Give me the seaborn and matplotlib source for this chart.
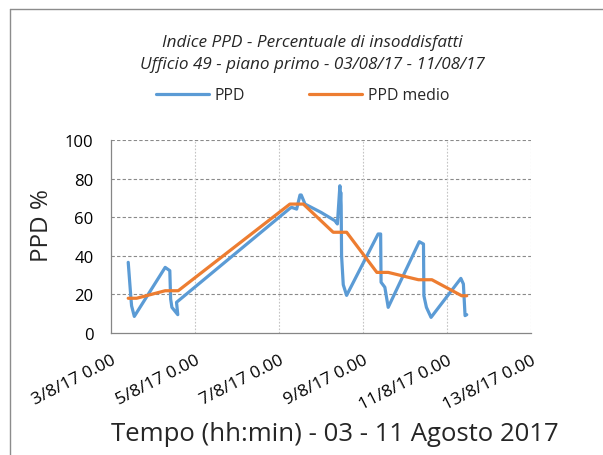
import numpy as np
import pandas as pd
import matplotlib
matplotlib.use("Agg")
import matplotlib.pyplot as plt
import seaborn as sns
from matplotlib.lines import Line2D

# Time expressed in days since 03/08/17 00:00
ppd_days = [0.41, 0.47, 0.49, 0.555, 1.29, 1.40, 1.42, 1.45, 1.59, 1.56,
            4.26, 4.30, 4.42, 4.50, 4.53, 4.62, 5.00, 5.33, 5.39, 5.45,
            5.46, 5.47, 5.48, 5.49, 5.53, 5.61, 6.36, 6.42, 6.43, 6.52,
            6.60, 7.34, 7.44, 7.45, 7.51, 7.62, 8.33, 8.39, 8.43, 8.47]
ppd_values = [36.6, 19.3, 14.1, 8.6, 34.0, 32.3, 17.6, 13.3, 9.5, 15.9,
              64.6, 65.1, 64.2, 71.5, 71.5, 66.8, 62.5, 58.2, 56.5, 76.3,
              68.0, 72.9, 66.0, 40.0, 25.0, 19.5, 51.3, 51.3, 26.3, 23.7,
              13.3, 47.3, 46.1, 19.3, 13.3, 8.1, 28.3, 25.4, 9.0, 9.5]

mean_days = [0.41, 0.61, 1.29, 1.60, 4.26, 4.58, 5.29, 5.61, 6.33, 6.60,
             7.32, 7.64, 8.35, 8.47]
mean_values = [18.0, 18.0, 21.9, 21.9, 66.8, 66.8, 52.2, 52.2, 31.4, 31.4,
               27.6, 27.6, 19.3, 19.3]

tick_days = [0, 2, 4, 6, 8, 10]
tick_labels = ["3/8/17 0.00", "5/8/17 0.00", "7/8/17 0.00",
               "9/8/17 0.00", "11/8/17 0.00", "13/8/17 0.00"]
y_ticks = [0, 20, 40, 60, 80, 100]

df_ppd = pd.DataFrame({"day": ppd_days, "val": ppd_values})
df_mean = pd.DataFrame({"day": mean_days, "val": mean_values})

sns.set_theme(style="white")
plt.rcParams['font.family'] = ['Open Sans', 'DejaVu Sans']

fig = plt.figure(figsize=(6.03, 4.56), dpi=100)
fig.patch.set_facecolor("white")
ax = fig.add_axes([0.18408, 0.26754, 0.69652, 0.42325])

sns.lineplot(data=df_ppd, x="day", y="val", sort=False, estimator=None,
             color="#5B9BD5", lw=2.3, ax=ax, label="PPD",
             solid_joinstyle="round", solid_capstyle="round")
sns.lineplot(data=df_mean, x="day", y="val", sort=False, estimator=None,
             color="#ED7D31", lw=2.3, ax=ax, label="PPD medio",
             solid_joinstyle="round", solid_capstyle="round")

ax.set_xlim(0, 10)
ax.set_ylim(0, 100)
ax.set_xticks(tick_days)
ax.set_xticklabels(tick_labels, rotation=27, ha="right", va="top",
                   rotation_mode="anchor", fontsize=12.5)
ax.set_yticks(y_ticks)
ax.set_yticklabels([str(v) for v in y_ticks], fontsize=12)
ax.set_xlabel("")
ax.set_ylabel("")

ax.tick_params(axis="x", direction="out", length=4.5, width=0.8,
               color="#868686", pad=9, labelcolor="black")
ax.tick_params(axis="y", direction="out", length=4.5, width=0.8,
               color="#868686", pad=8, labelcolor="black")

# grid
ax.grid(False)
for v in y_ticks[1:]:
    ax.axhline(v, color="#8a8a8a", lw=0.8, ls=(0, (3, 2)), zorder=0)
for d in tick_days[1:]:
    ax.axvline(d, color="#c4c4c4", lw=0.8, ls=(0, (1.5, 1.5)), zorder=0)

for s in ["top", "right"]:
    ax.spines[s].set_visible(False)
for s in ["left", "bottom"]:
    ax.spines[s].set_color("#868686")
    ax.spines[s].set_linewidth(0.9)

handles, labels = ax.get_legend_handles_labels()
ax.get_legend().remove()
fig.legend(handles, labels, loc="center", bbox_to_anchor=(0.5017, 0.789),
           ncol=2, frameon=False, fontsize=11.4, handlelength=3.35,
           handletextpad=0.32, columnspacing=4.1)

fig.text(0.5174, 0.9057, "Indice PPD - Percentuale di insoddisfatti",
         ha="center", va="center", style="italic", fontsize=12.3)
fig.text(0.5174, 0.8575, "Ufficio 49 - piano primo - 03/08/17 - 11/08/17",
         ha="center", va="center", style="italic", fontsize=12.3)

fig.text(42 / 603, 1 - 226 / 456, "PPD %", rotation=90, ha="center",
         va="center", fontsize=17.5)
fig.text(334.5 / 603, 1 - 435 / 456, "Tempo (hh:min) - 03 - 11 Agosto 2017",
         ha="center", va="center", fontsize=18.5)

# chart-area frame (left and top edges visible)
fig.add_artist(Line2D([9.5 / 603, 9.5 / 603], [0, 1 - 9.5 / 456],
                      transform=fig.transFigure, color="#8c8c8c", lw=1))
fig.add_artist(Line2D([9.5 / 603, 1], [1 - 9.5 / 456, 1 - 9.5 / 456],
                      transform=fig.transFigure, color="#8c8c8c", lw=1))

fig.savefig("out.png", dpi=100)
